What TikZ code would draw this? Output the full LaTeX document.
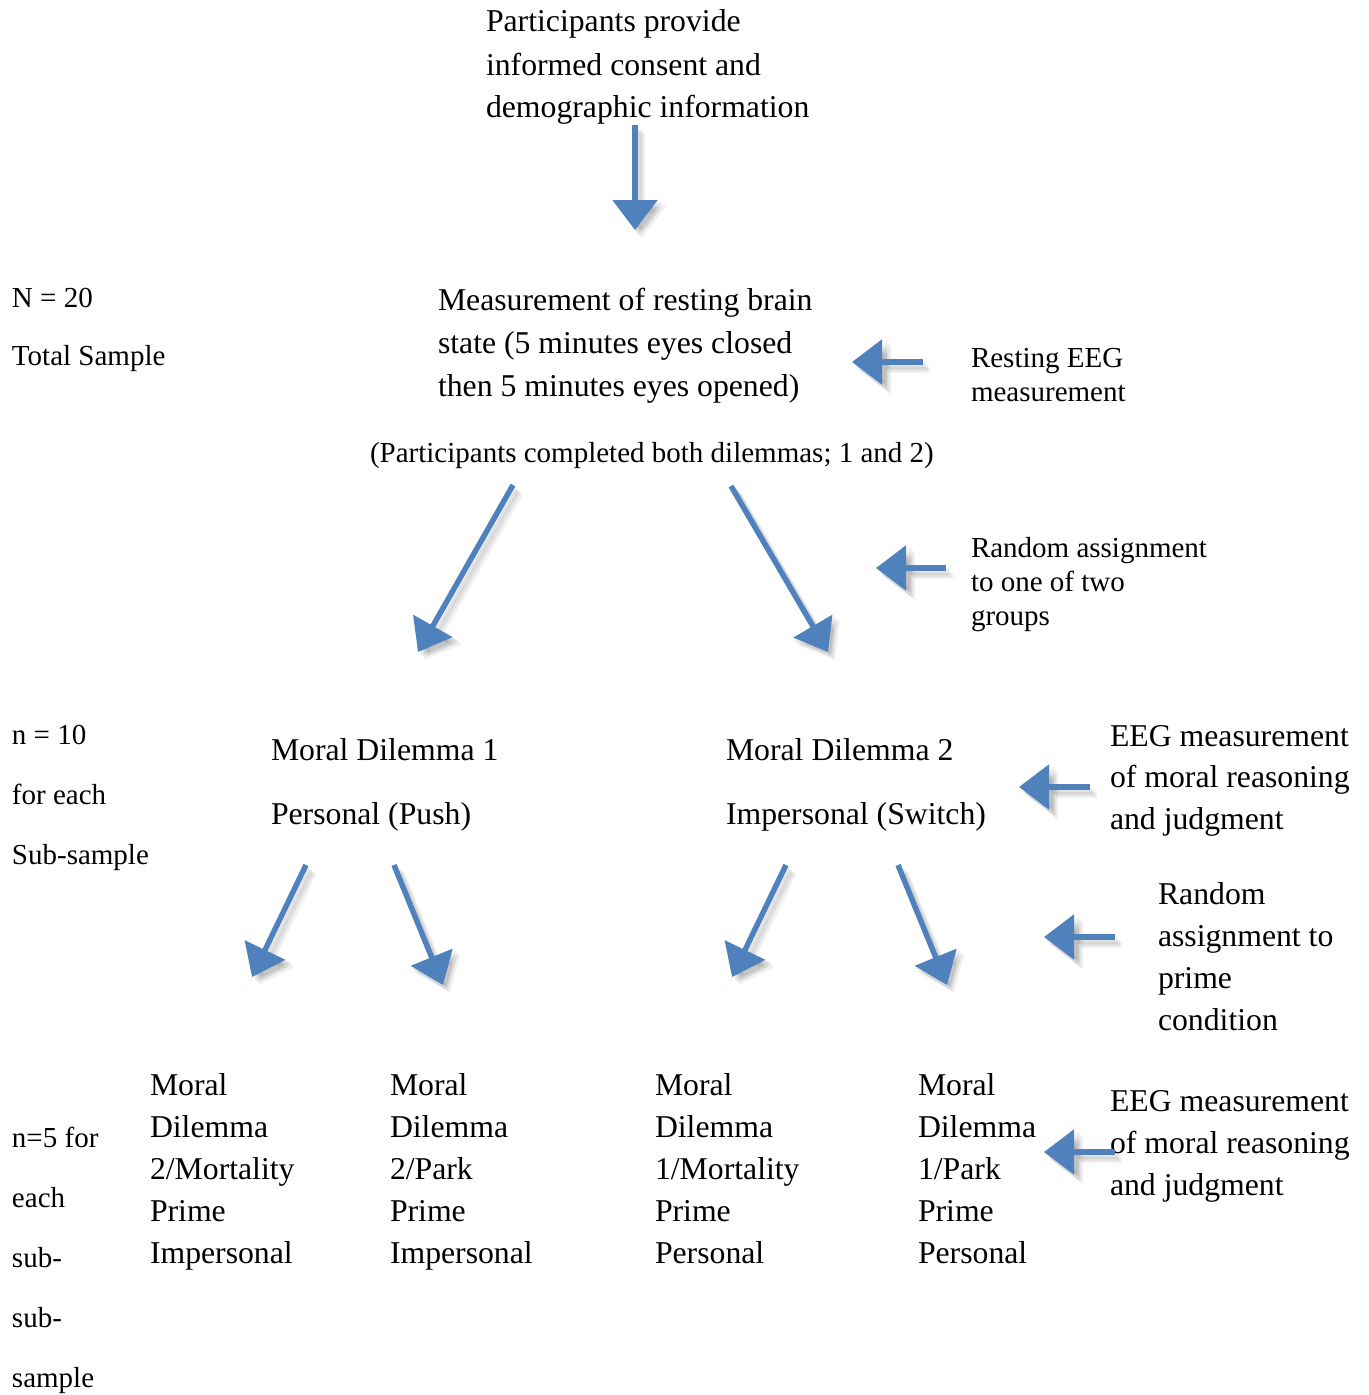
\documentclass[tikz,border=0pt]{standalone}
\usepackage{fontspec}
\setmainfont{Liberation Serif}
\usetikzlibrary{arrows.meta}
\definecolor{arrowblue}{HTML}{4F81BD}
\tikzset{
  txt/.style={anchor=base west, inner sep=0pt, outer sep=0pt, text width=300pt,
    execute at begin node={\spaceskip=0.25em plus 0.05em\relax}},
  big/.style={font=\fontsize{23.8pt}{32.25pt}\selectfont},
  small/.style={font=\fontsize{21.75pt}{25.5pt}\selectfont},
  blockarrow/.style={draw=arrowblue, line width=4.1pt,
    -{Triangle[length=22.5pt, width=33pt]}, arrowblue},
  shadowarrow/.style={draw=black, draw opacity=0.06, fill opacity=0.06, line width=5pt,
    -{Triangle[length=24pt, width=35pt]}, fill=black},
}
\begin{document}
\begin{tikzpicture}[x=0.75pt, y=-0.75pt]
\useasboundingbox (0,0) rectangle (1368,1395);

% text blocks
\node[txt, big] (top) at (486,32) {Participants provide\\informed consent and\\demographic information};
\node[txt, small, font=\fontsize{21.75pt}{43.5pt}\selectfont] (ntot) at (12,307) {N = 20\\Total Sample};
\node[txt, big] (meas) at (438,310) {Measurement of resting brain\\state (5 minutes eyes closed\\then 5 minutes eyes opened)};
\node[txt, small, text width=500pt] (both) at (370,462) {(Participants completed both dilemmas; 1 and 2)};
\node[txt, small] (rest) at (971,367) {Resting EEG\\measurement};
\node[txt, small] (rand1) at (971,557) {Random assignment\\to one of two\\groups};
\node[txt, small, font=\fontsize{21.75pt}{45pt}\selectfont] (n10) at (12,744) {n = 10\\for each\\Sub-sample};
\node[txt, big, font=\fontsize{23.8pt}{48pt}\selectfont] (md1) at (271,760) {Moral Dilemma 1\\Personal (Push)};
\node[txt, big, font=\fontsize{23.8pt}{48pt}\selectfont] (md2) at (726,760) {Moral Dilemma 2\\Impersonal (Switch)};
\node[txt, big, font=\fontsize{23.8pt}{31.2pt}\selectfont] (eeg1) at (1110,746) {EEG measurement\\of moral reasoning\\and judgment};
\node[txt, big, font=\fontsize{23.8pt}{31.5pt}\selectfont] (rand2) at (1158,904) {Random\\assignment to\\prime\\condition};
\node[txt, small, font=\fontsize{21.75pt}{45pt}\selectfont] (n5) at (12,1147) {n=5 for\\each\\sub-\\sub-\\sample};
\node[txt, big, font=\fontsize{23.8pt}{31.6pt}\selectfont] (c1) at (150,1095) {Moral\\Dilemma\\2/Mortality\\Prime\\Impersonal};
\node[txt, big, font=\fontsize{23.8pt}{31.6pt}\selectfont] (c2) at (390,1095) {Moral\\Dilemma\\2/Park\\Prime\\Impersonal};
\node[txt, big, font=\fontsize{23.8pt}{31.6pt}\selectfont] (c3) at (655,1095) {Moral\\Dilemma\\1/Mortality\\Prime\\Personal};
\node[txt, big, font=\fontsize{23.8pt}{31.6pt}\selectfont] (c4) at (918,1095) {Moral\\Dilemma\\1/Park\\Prime\\Personal};
\node[txt, big, font=\fontsize{23.8pt}{31.5pt}\selectfont] (eeg2) at (1110,1111) {EEG measurement\\of moral reasoning\\and judgment};

% arrow end points
\coordinate (a1s) at (635,125);  \coordinate (a1e) at (635,230);
\coordinate (a2s) at (923,362);  \coordinate (a2e) at (852,362);
\coordinate (a3s) at (946,568);  \coordinate (a3e) at (876,568);
\coordinate (a4s) at (513,485);  \coordinate (a4e) at (418,652);
\coordinate (a5s) at (731,486);  \coordinate (a5e) at (828,652);
\coordinate (a6s) at (1090,787); \coordinate (a6e) at (1019,787);
\coordinate (a7s) at (306,865);  \coordinate (a7e) at (252,977);
\coordinate (a8s) at (394,865);  \coordinate (a8e) at (443,985);
\coordinate (a9s) at (786,865);  \coordinate (a9e) at (732,977);
\coordinate (a10s) at (898,865); \coordinate (a10e) at (947,985);
\coordinate (a11s) at (1115,937); \coordinate (a11e) at (1044,937);
\coordinate (a12s) at (1115,1152); \coordinate (a12e) at (1044,1152);

% soft shadows
\foreach \i in {1,...,12}{
  \foreach \d in {3,5,7}{
    \draw[shadowarrow] ([shift={(\d,\d+1)}]a\i s) -- ([shift={(\d,\d+1)}]a\i e);
  }
}
% arrows
\foreach \i in {1,...,12}{
  \draw[blockarrow] (a\i s) -- (a\i e);
}
\end{tikzpicture}
\end{document}
